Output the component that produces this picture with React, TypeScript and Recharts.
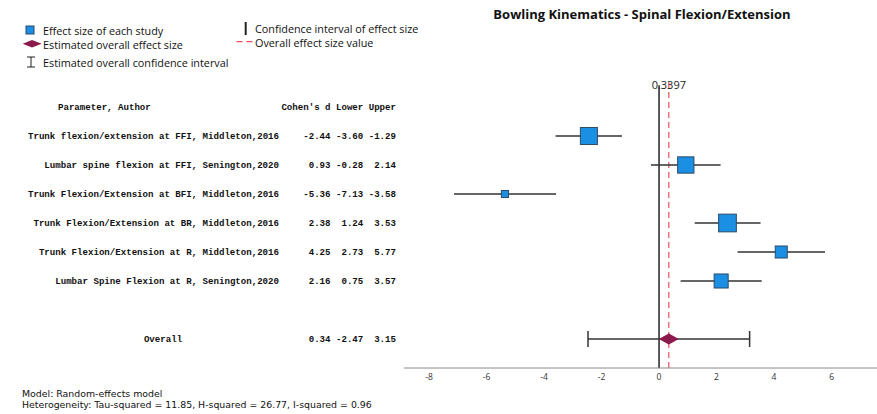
import React from 'react';
import { ScatterChart, Scatter, XAxis, YAxis, ReferenceLine, ErrorBar } from 'recharts';

const chartTitle = 'Bowling Kinematics - Spinal Flexion/Extension';
const studyLabels = [
  'Trunk flexion/extension at FFI, Middleton,2016',
  'Lumbar spine flexion at FFI, Senington,2020',
  'Trunk Flexion/Extension at BFI, Middleton,2016',
  'Trunk Flexion/Extension at BR, Middleton,2016',
  'Trunk Flexion/Extension at R, Middleton,2016',
  'Lumbar Spine Flexion at R, Senington,2020',
];
const cohensD = [-2.44, 0.93, -5.36, 2.38, 4.25, 2.16];
const lowerCI = [-3.6, -0.28, -7.13, 1.24, 2.73, 0.75];
const upperCI = [-1.29, 2.14, -3.58, 3.53, 5.77, 3.57];
const studyWeights = [18.1, 16.6, 3.1, 19.6, 9.0, 12.3];
const overallLabel = 'Overall';
const overallEffect = 0.3397;
const overallLower = -2.47;
const overallUpper = 3.15;
const xTicks = [-8, -6, -4, -2, 0, 2, 4, 6];
const headerLabel = 'Parameter, Author';
const headerStats = ["Cohen's d", 'Lower', 'Upper'];
const legendItems = [
  'Effect size of each study',
  'Estimated overall effect size',
  'Estimated overall confidence interval',
  'Confidence interval of effect size',
  'Overall effect size value',
];
const modelText = 'Model: Random-effects model';
const heterogeneityText = 'Heterogeneity: Tau-squared = 11.85, H-squared = 26.77, I-squared = 0.96';

const SANS = '"Open Sans", "Liberation Sans", sans-serif';
const FOOT = '"DejaVu Sans", sans-serif';
const MONO = '"Liberation Mono", "Courier New", monospace';
const BLUE = '#1a8fe4';
const BLUE_EDGE = '#2b4a68';
const MAROON = '#8c1a4c';
const RED = '#e8505b';

const fmt = (v: number) => v.toFixed(2).padStart(5, ' ');

const studyData = cohensD.map((d, i) => ({
  x: d,
  y: i,
  err: [d - lowerCI[i], upperCI[i] - d],
  w: studyWeights[i],
}));

const overallRow = studyLabels.length + 1;
const overallData = [
  { x: overallEffect, y: overallRow, err: [overallEffect - overallLower, overallUpper - overallEffect] },
];

const tableData = [
  { x: 0, y: -1, kind: 'header', label: headerLabel, stats: headerStats.join(' ') },
  ...studyLabels.map((label, i) => ({
    x: 0,
    y: i,
    kind: 'study',
    label,
    stats: [cohensD[i], lowerCI[i], upperCI[i]].map(fmt).join(' '),
  })),
  {
    x: 0,
    y: overallRow,
    kind: 'overall',
    label: overallLabel,
    stats: [overallEffect, overallLower, overallUpper].map(fmt).join(' '),
  },
];

const TableRow = (props: any) => {
  const { cy, payload } = props;
  const labelX = payload.kind === 'header' ? 58 : payload.kind === 'overall' ? 163 : 279;
  const anchor = payload.kind === 'header' ? 'start' : payload.kind === 'overall' ? 'middle' : 'end';
  const common = {
    fontFamily: MONO,
    fontWeight: 700,
    fontSize: 9.1,
    fill: '#111',
    dominantBaseline: 'central' as const,
    style: { whiteSpace: 'pre' as const },
  };
  return (
    <g>
      <text x={labelX} y={cy} textAnchor={anchor} {...common}>
        {payload.label}
      </text>
      <text x={396} y={cy} textAnchor="end" {...common}>
        {payload.stats}
      </text>
    </g>
  );
};

const Square = (props: any) => {
  const { cx, cy, payload } = props;
  const s = 4 * Math.sqrt(payload.w);
  return <rect x={cx - s / 2} y={cy - s / 2} width={s} height={s} fill={BLUE} stroke={BLUE_EDGE} strokeWidth={1} />;
};

const Diamond = (props: any) => {
  const { cx, cy } = props;
  const hw = 10;
  const hh = 5.5;
  return (
    <polygon
      points={`${cx - hw},${cy} ${cx},${cy - hh} ${cx + hw},${cy} ${cx},${cy + hh}`}
      fill={MAROON}
    />
  );
};

const Empty = () => <g />;

export default function App() {
  return (
    <div style={{ position: 'absolute', left: 0, top: 0, width: 877, height: 414, background: '#fff' }}>
      <div style={{ position: 'absolute', left: 0, top: 0 }}>
        <ScatterChart width={877} height={414} margin={{ top: 78, right: 0, bottom: 16, left: 404 }}>
          <XAxis
            type="number"
            dataKey="x"
            domain={[-8.87, 7.58]}
            ticks={xTicks}
            tickLine={false}
            tickSize={4}
            tickMargin={2}
            height={30}
            axisLine={{ stroke: '#8a8a8a', strokeWidth: 1 }}
            tick={{ fontSize: 8.5, fill: '#333', fontFamily: SANS }}
          />
          <YAxis type="number" dataKey="y" domain={[-2, 8]} reversed hide />
          <ReferenceLine
            x={overallEffect}
            stroke={RED}
            strokeWidth={1.2}
            strokeDasharray="6 4"
            label={{
              value: String(overallEffect),
              position: 'insideTop',
              offset: 3,
              fontSize: 11,
              fill: '#222',
              fontFamily: SANS,
            }}
          />
          <ReferenceLine
            segment={[
              { x: 0, y: -1.75 },
              { x: 0, y: 8 },
            ]}
            stroke="#222"
            strokeWidth={1.5}
          />
          <Scatter data={tableData} shape={TableRow} isAnimationActive={false} />
          <Scatter data={studyData} shape={Square} isAnimationActive={false}>
            <ErrorBar dataKey="err" direction="x" width={0} stroke="#333" strokeWidth={1.5} />
          </Scatter>
          <Scatter data={overallData} shape={Diamond} isAnimationActive={false} />
          <Scatter data={overallData} shape={Empty} isAnimationActive={false}>
            <ErrorBar dataKey="err" direction="x" width={8} stroke="#333" strokeWidth={1.5} />
          </Scatter>
        </ScatterChart>
      </div>
      <svg
        width={877}
        height={414}
        style={{ position: 'absolute', left: 0, top: 0, pointerEvents: 'none' }}
      >
        <text x={642} y={14} textAnchor="middle" dominantBaseline="central" fontFamily={SANS} fontWeight={700} fontSize={13} fill="#111">
          {chartTitle}
        </text>
        {/* legend column 1 */}
        <rect x={26} y={26} width={8} height={8} fill={BLUE} stroke={BLUE_EDGE} strokeWidth={1} />
        <text x={43} y={30} dominantBaseline="central" fontFamily={SANS} fontSize={10.8} fill="#111">
          {legendItems[0]}
        </text>
        <polygon points="22.7,43.8 32,40 41.7,43.8 32,47.6" fill={MAROON} />
        <text x={43} y={44} dominantBaseline="central" fontFamily={SANS} fontSize={10.8} fill="#111">
          {legendItems[1]}
        </text>
        <g stroke="#222" strokeWidth={1}>
          <line x1={31} y1={57} x2={31} y2={67} />
          <line x1={27} y1={57} x2={35} y2={57} />
          <line x1={27} y1={67} x2={35} y2={67} />
        </g>
        <text x={43} y={62.5} dominantBaseline="central" fontFamily={SANS} fontSize={10.8} fill="#111">
          {legendItems[2]}
        </text>
        {/* legend column 2 */}
        <line x1={245.7} y1={22} x2={245.7} y2={35} stroke="#222" strokeWidth={2} />
        <text x={255} y={28.5} dominantBaseline="central" fontFamily={SANS} fontSize={10.8} fill="#111">
          {legendItems[3]}
        </text>
        <line x1={236.5} y1={41.7} x2={253} y2={41.7} stroke={RED} strokeWidth={1.2} strokeDasharray="6 4" />
        <text x={255} y={42} dominantBaseline="central" fontFamily={SANS} fontSize={10.8} fill="#111">
          {legendItems[4]}
        </text>
        {/* footnotes */}
        <text x={22} y={393.5} dominantBaseline="central" fontFamily={FOOT} fontSize={9.4} fill="#111">
          {modelText}
        </text>
        <text x={22} y={404.5} dominantBaseline="central" fontFamily={FOOT} fontSize={9.4} fill="#111">
          {heterogeneityText}
        </text>
      </svg>
    </div>
  );
}
